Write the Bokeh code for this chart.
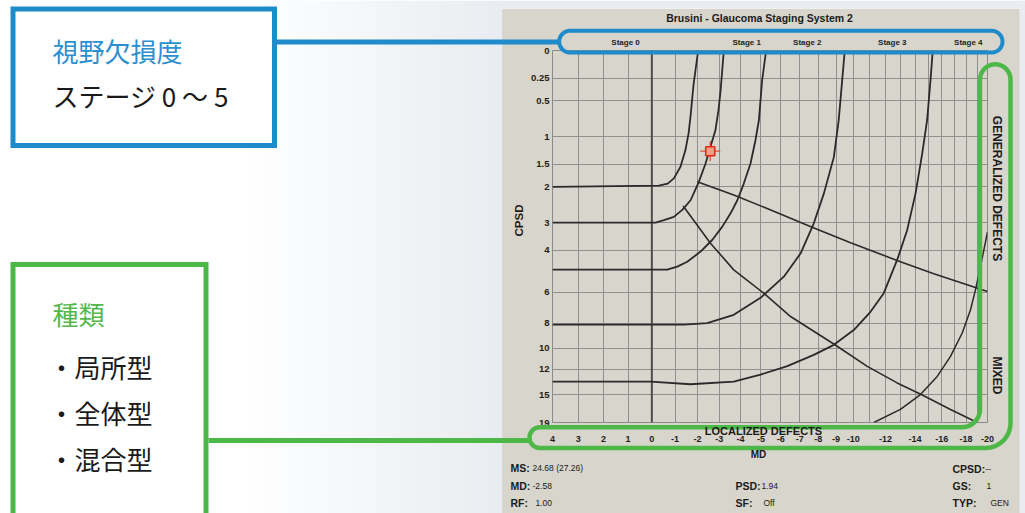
import math
import numpy as np
from bokeh.plotting import figure
from bokeh.models import Range1d, FixedTicker, LinearAxis, Label, Span
from bokeh.embed import file_html
from bokeh.resources import INLINE

# ---------------- data ----------------
md_grid = list(range(4, -21, -1))
md_tick_labels = [4, 3, 2, 1, 0, -1, -2, -3, -4, -5, -6, -7, -8, -9, -10, -12, -14, -16, -18, -20]
cpsd_ticks = [0, 0.25, 0.5, 1, 1.5, 2, 3, 4, 6, 8, 10, 12, 15, 19]
cpsd_tick_labels = ["0", "0.25", "0.5", "1", "1.5", "2", "3", "4", "6", "8", "10", "12", "15", "19"]

stage_names = ["Stage 0", "Stage 1", "Stage 2", "Stage 3", "Stage 4"]
stage_md = [1.1, -4.3, -7.4, -12.45, -18.2]

b1_md = [4, -0.3, -0.68, -0.95, -1.24, -1.46, -1.6, -1.69, -1.82, -2.03]
b1_cpsd = [2, 1.97, 1.92, 1.8, 1.55, 1.23, 0.95, 0.69, 0.32, 0]
b2_md = [4, -0.16, -0.52, -0.95, -1.32, -1.69, -2.06, -2.37, -2.59, -2.82, -2.96, -3.06, -3.21]
b2_cpsd = [3, 3, 2.92, 2.82, 2.61, 2.34, 1.88, 1.48, 1.17, 0.9, 0.62, 0.38, 0]
b3_md = [4, -0.66, -1.1, -1.54, -2.14, -2.67, -3.14, -3.53, -3.85, -4.16, -4.49, -4.73, -4.9, -5.06, -5.26]
b3_cpsd = [4.84, 4.84, 4.7, 4.48, 4.05, 3.6, 3.13, 2.71, 2.34, 1.92, 1.48, 1.06, 0.75, 0.27, 0]
b4_md = [4, -1.39, -2.44, -3.68, -4.98, -6.16, -7.04, -7.75, -8.31, -8.87, -9.15, -9.35, -9.5]
b4_cpsd = [8.1, 8.1, 7.98, 7.4, 6.33, 5.18, 4.12, 3.02, 2.16, 1.36, 0.75, 0.27, 0]
b5_md = [4, 0.05, -1.69, -3.68, -4.98, -6.34, -7.75, -8.87, -10.03, -11.05, -11.89, -12.77,
         -13.45, -14.04, -14.52, -14.88, -15.13, -15.3]
b5_cpsd = [13.4, 13.4, 13.7, 13.4, 12.6, 11.7, 10.6, 9.7, 8.5, 7.2, 6.06, 4.4, 3.25, 2.16,
           1.29, 0.75, 0.27, 0]
mixed_md = [-11.26, -12.99, -14.39, -15.64, -16.69, -17.67, -18.4, -18.85, -19.32, -20.0]
mixed_cpsd = [19, 17.0, 14.97, 12.8, 10.75, 8.73, 7.07, 5.87, 4.7, 3.31]
gen_md = [-1.99, -3.68, -5.31, -7.66, -9.84, -12.99, -15.38, -20.0]
gen_cpsd = [1.88, 2.2, 2.57, 3.15, 3.7, 4.48, 5.04, 5.97]
loc_md = [-1.36, -2.59, -3.68, -5.14, -6.51, -8.93, -10.85, -12.77, -14.45, -16.69, -19.01]
loc_cpsd = [2.5, 3.72, 4.85, 6.06, 7.52, 9.69, 11.73, 13.54, 14.97, 17.0, 19]

patient_md = [-2.58]
patient_cpsd = [1.25]

info_keys = ["MS:", "MD:", "RF:", "PSD:", "SF:", "CPSD:", "GS:", "TYP:"]
info_vals = ["24.68 (27.26)", "-2.58", "1.00", "1.94", "Off", "--", "1", "GEN"]

# ---------------- helpers ----------------
def u(md):
    """Brusini MD axis scale (compressed towards large defects)."""
    m = np.asarray(md, dtype=float)
    r = -m - m ** 2 / 70.0
    return r.tolist() if r.ndim else float(r)

def yv(c):
    return (np.asarray(c, dtype=float) + 1.0).tolist()

W, H = 1025, 513
PX, PY = 501, 8          # grey panel origin on the page
PANEL = "#d8d5cc"
GRID = "#8f8f8f"
INK = "#2a2a2a"
BLUE = "#1f8bca"
GREEN = "#4db848"
FONT = "Liberation Sans"
JP = "Noto Sans CJK JP"

# ---------------- chart (grey panel) ----------------
p = figure(width=W - PX, height=H - PY, output_backend="svg", toolbar_location=None,
           x_range=Range1d(u(4), u(-20)), y_range=Range1d(20, 1), y_axis_type="log",
           min_border_left=552 - PX, min_border_right=W - 987, min_border_top=50 - PY,
           min_border_bottom=H - 422,
           background_fill_color=PANEL, border_fill_color=PANEL,
           outline_line_color="#8a8a8a", outline_line_width=1,
           styles={"position": "absolute", "left": f"{PX}px", "top": f"{PY}px"})

xa = p.xaxis[0]
xa.ticker = FixedTicker(ticks=[u(m) for m in md_tick_labels])
xa.major_label_overrides = {u(m): str(m) for m in md_tick_labels}
ya = p.yaxis[0]
ya.ticker = FixedTicker(ticks=[1.0 + c for c in cpsd_ticks])
ya.major_label_overrides = {1.0 + c: l for c, l in zip(cpsd_ticks, cpsd_tick_labels)}
for ax, st, sz in ((xa, 13, "9px"), (ya, 3, "9.5px")):
    ax.axis_line_color = None
    ax.major_tick_line_color = None
    ax.minor_tick_line_color = None
    ax.major_tick_out = 0
    ax.major_tick_in = 0
    ax.major_label_standoff = st
    ax.major_label_text_font = FONT
    ax.major_label_text_font_style = "bold"
    ax.major_label_text_font_size = sz
    ax.major_label_text_color = "#1e1e1e"

sa = LinearAxis(ticker=FixedTicker(ticks=[u(m) for m in stage_md]),
                major_label_overrides={u(m): s for m, s in zip(stage_md, stage_names)},
                axis_line_color=None, major_tick_line_color=None, minor_tick_line_color=None,
                major_tick_out=0, major_tick_in=0,
                major_label_standoff=4, major_label_text_font=FONT,
                major_label_text_font_style="bold", major_label_text_font_size="8px",
                major_label_text_color="#1e1e1e")
p.add_layout(sa, "above")

p.xgrid.ticker = FixedTicker(ticks=[u(m) for m in md_grid])
p.ygrid.ticker = FixedTicker(ticks=[1.0 + c for c in cpsd_ticks])
p.xgrid.grid_line_color = GRID
p.ygrid.grid_line_color = GRID
p.xgrid.grid_line_width = 1
p.ygrid.grid_line_width = 1

p.add_layout(Span(location=u(0), dimension="height", line_color="#4d4d4d", line_width=2,
                  level="underlay"))

for mdv, cv, w in ((b1_md, b1_cpsd, 1.8), (b2_md, b2_cpsd, 1.8), (b3_md, b3_cpsd, 1.8),
                   (b4_md, b4_cpsd, 1.8), (b5_md, b5_cpsd, 1.8), (mixed_md, mixed_cpsd, 1.5),
                   (gen_md, gen_cpsd, 1.6), (loc_md, loc_cpsd, 1.6)):
    p.line(u(mdv), yv(cv), line_color=INK, line_width=w)

p.scatter(u(patient_md), yv(patient_cpsd), marker="cross", size=20, line_color="#e23a22",
          line_width=1.3, line_alpha=0.85)
p.scatter(u(patient_md), yv(patient_cpsd), marker="square", size=9, fill_color="#f2a08c",
          line_color="#e02a14", line_width=1.6)

# ---------------- overlay (page coordinates, y downwards) ----------------
q = figure(width=W, height=H, output_backend="svg", toolbar_location=None,
           x_range=Range1d(0, W), y_range=Range1d(H, 0),
           x_axis_location=None, y_axis_location=None,
           min_border=0, min_border_left=0, min_border_right=0, min_border_top=0,
           min_border_bottom=0,
           background_fill_color=None, border_fill_color=None, outline_line_color=None,
           styles={"position": "absolute", "left": "0px", "top": "0px"})
q.grid.visible = False

# page background: white fading to light grey towards the panel
nb = 18
for i in range(nb):
    x0 = 250 + i * (PX - 250) / nb
    x1 = 250 + (i + 1) * (PX - 250) / nb + 0.6
    t = (i + 0.5) / nb
    col = "#%02x%02x%02x" % (int(255 - t * 22), int(255 - t * 19), int(255 - t * 14))
    q.quad(left=x0, right=x1, top=0, bottom=H, fill_color=col, line_color=None)
q.quad(left=PX - 0.5, right=W, top=0, bottom=PY, fill_color="#e9ecf0", line_color=None)
q.quad(left=1019, right=W, top=0, bottom=H, fill_color="#e9ecf0", line_color=None)

def lab(x, y, text, size, bold=True, align="center", angle=0.0, color="#1b1b1b", font=FONT):
    q.add_layout(Label(x=x, y=y, text=text, text_font=font, text_font_size=size,
                       text_font_style="bold" if bold else "normal", text_align=align,
                       text_baseline="middle", angle=angle, text_color=color))

lab(759, 17, "Brusini - Glaucoma Staging System 2", "10.5px")
lab(518, 220, "CPSD", "11.5px", angle=math.pi / 2)
lab(758, 454, "MD", "10px")
lab(763, 430, "LOCALIZED DEFECTS", "11px")
lab(996, 188, "GENERALIZED DEFECTS", "12px", angle=-math.pi / 2)
lab(996, 375, "MIXED", "12px", angle=-math.pi / 2)

key_pos = [(510, 467), (510, 485), (510, 502), (735, 485), (735, 502), (952, 468), (952, 485), (952, 502)]
val_pos = [(532, 467), (532, 485), (535, 502), (761, 485), (763, 502), (985, 468), (986, 485), (990, 502)]
for k, v, kp, vp in zip(info_keys, info_vals, key_pos, val_pos):
    lab(kp[0], kp[1], k, "10.5px", align="left")
    lab(vp[0], vp[1], v, "8.5px", bold=False, align="left")

def arc(xc, yc, r, a0, a1, n=16):
    a = np.radians(np.linspace(a0, a1, n))
    return (xc + r * np.cos(a)).tolist(), (yc + r * np.sin(a)).tolist()

def rrect(x0, y0, x1, y1, r):
    xs, ys = [], []
    for (xc, yc, a0, a1) in ((x0 + r, y0 + r, 180, 270), (x1 - r, y0 + r, 270, 360),
                             (x1 - r, y1 - r, 0, 90), (x0 + r, y1 - r, 90, 180)):
        ax_, ay_ = arc(xc, yc, r, a0, a1)
        xs += ax_
        ys += ay_
    return xs + xs[:1], ys + ys[:1]

# blue call-out
q.patch([12.5, 274, 274, 12.5], [8.5, 8.5, 145, 145], fill_color="white",
        line_color=BLUE, line_width=5, line_join="miter")
q.line([276, 559], [41.5, 41.5], line_color=BLUE, line_width=5)
pxs, pys = rrect(558.7, 30.3, 1002, 52, 10.8)
q.line(pxs, pys, line_color=BLUE, line_width=4)

# green call-out
q.patch([12.5, 205.5, 205.5, 12.5], [264, 264, 530, 530], fill_color="white",
        line_color=GREEN, line_width=5, line_join="miter")
q.line([208, 530], [440, 440], line_color=GREEN, line_width=5)
lx, ly = [539.4, 961.5], [426.7, 426.7]
a = arc(961.5, 408.7, 18, 90, 0); lx += a[0]; ly += a[1]
a = arc(994.75, 79, 15.25, 180, 360); lx += a[0]; ly += a[1]
a = arc(985, 422.5, 25, 0, 90); lx += a[0]; ly += a[1]
a = arc(539.4, 437.1, 10.4, 90, 270); lx += a[0]; ly += a[1]
q.line(lx + lx[:1], ly + ly[:1], line_color=GREEN, line_width=4.5)

lab(52, 50, "視野欠損度", "26px", bold=False, align="left", color="#2b8fcf", font=JP)
lab(52, 95, "ステージ 0 ～ 5", "26px", bold=False, align="left", color="#1a1a1a", font=JP)
lab(52, 313, "種類", "26px", bold=False, align="left", color="#52b84c", font=JP)
lab(48, 366, "・局所型", "26px", bold=False, align="left", color="#1a1a1a", font=JP)
lab(48, 412, "・全体型", "26px", bold=False, align="left", color="#1a1a1a", font=JP)
lab(48, 458, "・混合型", "26px", bold=False, align="left", color="#1a1a1a", font=JP)

open("out.html", "w").write(file_html([p, q], INLINE))
